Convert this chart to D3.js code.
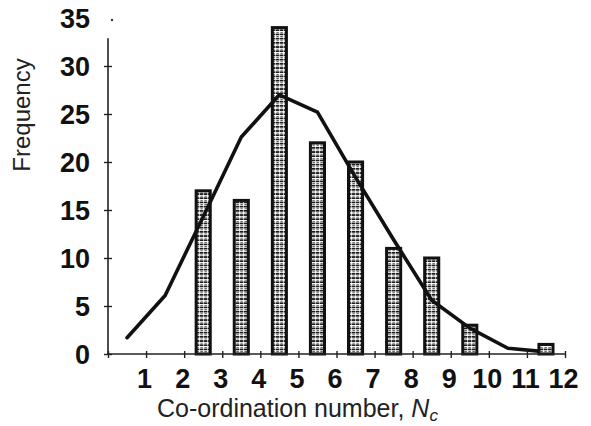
<!DOCTYPE html>
<html>
<head>
<meta charset="utf-8">
<script src="https://cdn.jsdelivr.net/npm/d3@7"></script>
<style>
  html, body { margin: 0; padding: 0; background: #fff; }
  svg { display: block; }
</style>
</head>
<body>
<svg id="chart" width="591" height="426"></svg>
<script>
// ---- data ----
const barCenters = [2.5, 3.5, 4.5, 5.5, 6.5, 7.5, 8.5, 9.5, 11.5];
const barFrequency = [17, 16, 34, 22, 20, 11, 10, 3, 1];
const curveX = [0.5, 1.5, 2.5, 3.5, 4.5, 5.5, 6.5, 7.5, 8.5, 9.5, 10.5, 11.3];
const curveFrequency = [1.7, 6.1, 14.3, 22.6, 27.0, 25.2, 18.4, 11.9, 5.6, 2.7, 0.6, 0.3];
const xTickValues = [0, 1, 2, 3, 4, 5, 6, 7, 8, 9, 10, 11, 12];
const xTickLabels = ["", "1", "2", "3", "4", "5", "6", "7", "8", "9", "10", "11", "12"];
const yTickValues = [0, 5, 10, 15, 20, 25, 30, 35];
const yAxisTopValue = 32.9;
const barWidthUnits = 0.37;

const svg = d3.select("#chart");
const font = "'Liberation Sans', Arial, Helvetica, sans-serif";

const x = d3.scaleLinear().domain([0, 12]).range([108, 565]);
const y = d3.scaleLinear().domain([0, 35]).range([354, 18]);

// pattern for the bars
const defs = svg.append("defs");
const pat = defs.append("pattern")
  .attr("id", "barfill")
  .attr("patternUnits", "userSpaceOnUse")
  .attr("width", 4).attr("height", 4.2);
pat.append("rect").attr("width", 4).attr("height", 4.2).attr("fill", "#fff");
pat.append("rect").attr("x", 0).attr("y", 0).attr("width", 3.4).attr("height", 1.7).attr("fill", "#1c1c1c");
pat.append("rect").attr("x", 0.4).attr("y", 2.5).attr("width", 2.4).attr("height", 1).attr("fill", "#555");

// bars
const bw = x(barWidthUnits) - x(0);
svg.append("g").selectAll("rect")
  .data(barCenters.map((c, i) => ({ c, v: barFrequency[i] })))
  .join("rect")
  .attr("x", d => x(d.c) - bw / 2)
  .attr("y", d => y(d.v))
  .attr("width", bw)
  .attr("height", d => y(0) - y(d.v))
  .attr("fill", "url(#barfill)")
  .attr("stroke", "#111")
  .attr("stroke-width", 3);

// curve
const line = d3.line().x(d => x(d[0])).y(d => y(d[1]));
svg.append("path")
  .datum(curveX.map((v, i) => [v, curveFrequency[i]]))
  .attr("d", line)
  .attr("fill", "none")
  .attr("stroke", "#111")
  .attr("stroke-width", 3.6)
  .attr("stroke-linejoin", "round")
  .attr("stroke-linecap", "round");

// y axis
const yAxis = d3.axisLeft(y).tickValues(yTickValues).tickSizeInner(4).tickSizeOuter(0).tickPadding(14);
const gy = svg.append("g").attr("transform", `translate(${x(0)},0)`).call(yAxis);
gy.select(".domain").remove();
gy.selectAll(".tick line")
  .attr("x1", d => d === 35 ? 0 : 4)
  .attr("x2", d => d === 35 ? 0 : -4)
  .attr("stroke", "#222").attr("stroke-width", 1.4);
gy.selectAll(".tick text")
  .attr("font-family", font).attr("font-size", 27).attr("font-weight", "bold")
  .attr("fill", "#111").attr("x", -18).attr("dy", "0.36em");
gy.append("line")
  .attr("x1", 0).attr("x2", 0)
  .attr("y1", y(0) + 1).attr("y2", y(yAxisTopValue))
  .attr("stroke", "#222").attr("stroke-width", 1.6);
gy.append("circle").attr("cx", 4).attr("cy", y(35) + 2).attr("r", 1.2).attr("fill", "#333");

// x axis
const xAxis = d3.axisBottom(x).tickValues(xTickValues)
  .tickFormat((d, i) => xTickLabels[i]).tickSizeInner(4).tickSizeOuter(0).tickPadding(12);
const gx = svg.append("g").attr("transform", `translate(0,${y(0)})`).call(xAxis);
gx.select(".domain").attr("stroke", "#222").attr("stroke-width", 1.6)
  .attr("d", `M${x(0) - 1},0H${x(12) + 1}`);
gx.selectAll(".tick line").attr("y1", -3).attr("y2", 4).attr("stroke", "#222").attr("stroke-width", 1.4);
gx.selectAll(".tick text")
  .attr("font-family", font).attr("font-size", 27).attr("font-weight", "bold")
  .attr("fill", "#111").attr("x", -2).attr("y", 34).attr("dy", 0);

// axis titles
svg.append("text")
  .attr("transform", "translate(30,115) rotate(-90)")
  .attr("text-anchor", "middle")
  .attr("font-family", font).attr("font-size", 24).attr("fill", "#222")
  .text("Frequency");

const xt = svg.append("text")
  .attr("x", 157).attr("y", 417)
  .attr("font-family", font).attr("font-size", 25).attr("fill", "#222");
xt.append("tspan").text("Co-ordination number, ");
xt.append("tspan").attr("font-style", "italic").text("N");
xt.append("tspan").attr("font-style", "italic").attr("font-size", 17).attr("dy", 4).text("c");
</script>
</body>
</html>
